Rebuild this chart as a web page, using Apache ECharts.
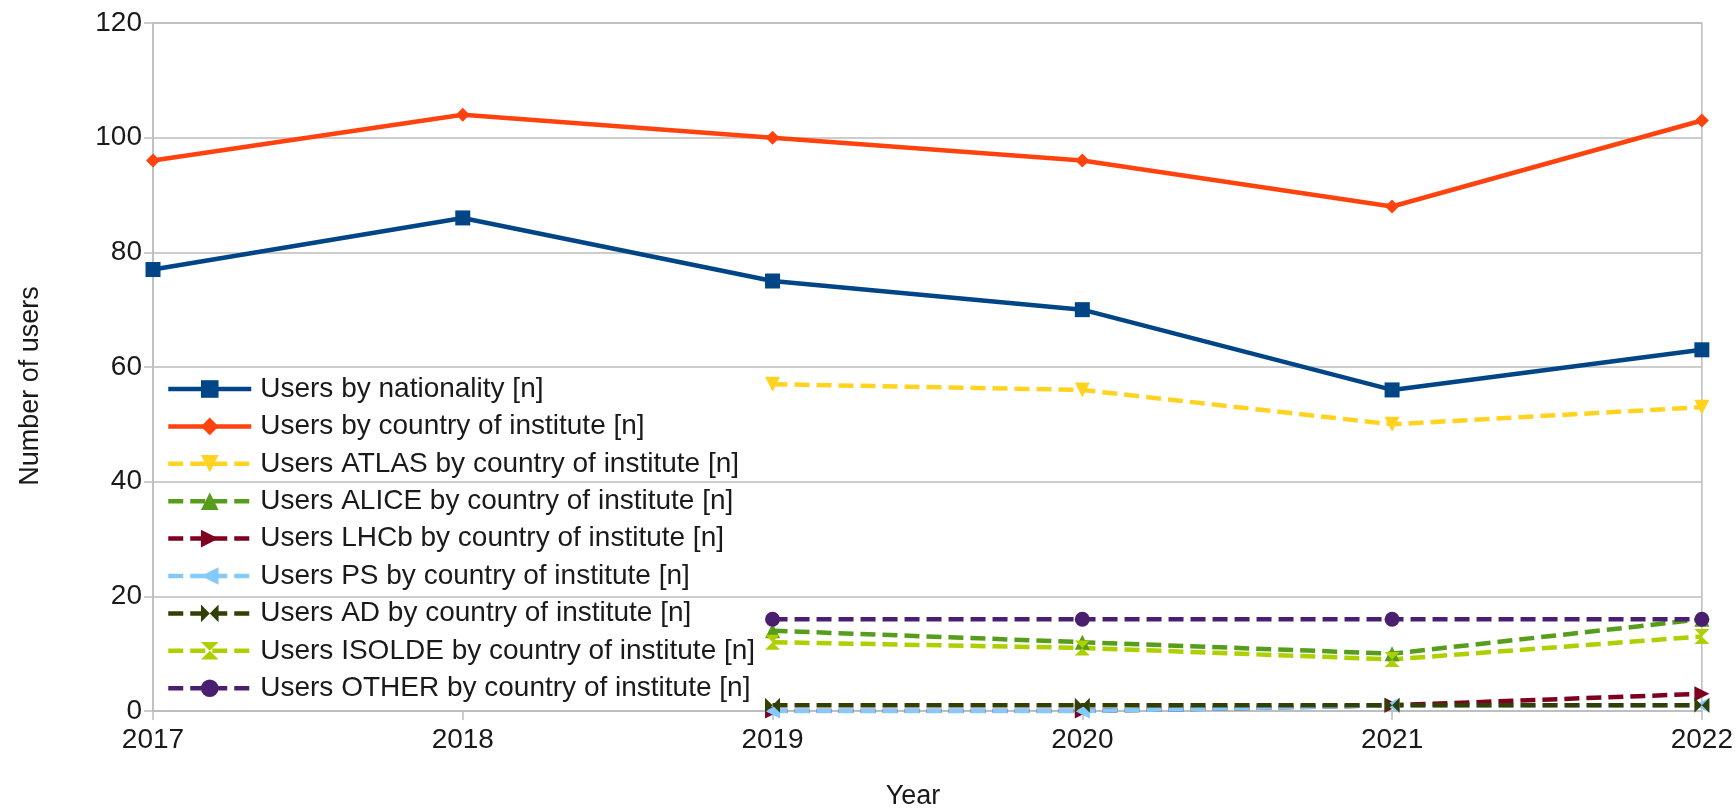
<!DOCTYPE html>
<html>
<head>
<meta charset="utf-8">
<script src="https://cdn.jsdelivr.net/npm/echarts@6/dist/echarts.min.js"></script>
<style>
  html, body { margin: 0; padding: 0; background: #ffffff; }
  #chart { width: 1736px; height: 812px; }
</style>
</head>
<body>
<div id="chart"></div>
<script>
// Years on the horizontal axis
const years = ['2017', '2018', '2019', '2020', '2021', '2022'];

// Series values (null = no data for that year)
const byNationality = [77, 86, 75, 70, 56, 63];
const byInstitute   = [96, 104, 100, 96, 88, 103];
const atlas  = [null, null, 57, 56, 50, 53];
const alice  = [null, null, 14, 12, 10, 16];
const lhcb   = [null, null, 0, 0, 1, 3];
const ps     = [null, null, 0, 0, 1, 1];
const ad     = [null, null, 1, 1, 1, 1];
const isolde = [null, null, 12, 11, 9, 13];
const other  = [null, null, 16, 16, 16, 16];

const seriesNames = [
  'Users by nationality [n]',
  'Users by country of institute [n]',
  'Users ATLAS by country of institute [n]',
  'Users ALICE by country of institute [n]',
  'Users LHCb by country of institute [n]',
  'Users PS by country of institute [n]',
  'Users AD by country of institute [n]',
  'Users ISOLDE by country of institute [n]',
  'Users OTHER by country of institute [n]'
];
const seriesValues = [byNationality, byInstitute, atlas, alice, lhcb, ps, ad, isolde, other];

// Styling per series
const colors = ['#004586', '#ff420e', '#ffd320', '#579d1c', '#7e0021', '#83caff', '#314004', '#aecf00', '#4b1f6f'];
const symbols = [
  'rect',
  'diamond',
  'path://M0,0 L10,0 L5,9 Z',
  'path://M5,0 L10,9 L0,9 Z',
  'path://M0,0 L9,5 L0,10 Z',
  'path://M9,0 L0,5 L9,10 Z',
  'path://M0,0 L5,5 L0,10 Z M10,0 L5,5 L10,10 Z',
  'path://M0,0 L10,0 L5,5 Z M0,10 L10,10 L5,5 Z',
  'circle'
];
const symbolSizes = [15, 14, 15, 15, 15, 15, 15, 15, 15];
const dashed = [false, false, true, true, true, true, true, true, true];

const FONT = 'Liberation Sans, Arial, sans-serif';
const TEXT = '#1a1a1a';
const GRIDC = '#bdbdbd';
const LINE_W = 4.5;
const DASH = [15, 7];

const series = seriesNames.map((name, i) => ({
  name: name,
  type: 'line',
  data: seriesValues[i],
  color: colors[i],
  symbol: symbols[i],
  symbolSize: symbolSizes[i],
  showAllSymbol: true,
  connectNulls: false,
  lineStyle: {
    width: LINE_W,
    color: colors[i],
    type: dashed[i] ? DASH : 'solid'
  },
  itemStyle: { color: colors[i] },
  emphasis: { disabled: true }
}));

const legendData = seriesNames.map((name, i) => ({
  name: name,
  lineStyle: { width: LINE_W, color: colors[i], type: dashed[i] ? DASH : 'solid' }
}));

const chart = echarts.init(document.getElementById('chart'), null, { renderer: 'canvas' });
chart.setOption({
  animation: false,
  backgroundColor: '#ffffff',
  grid: {
    left: 153, right: 32, top: 23, bottom: 101,
    show: true, borderColor: GRIDC, borderWidth: 1.5, backgroundColor: 'transparent'
  },
  xAxis: {
    type: 'category',
    data: years,
    boundaryGap: false,
    axisLine: { show: true, lineStyle: { color: GRIDC, width: 1.5 } },
    axisTick: { show: true, length: 9, alignWithLabel: true, lineStyle: { color: GRIDC, width: 1.5 } },
    axisLabel: { fontFamily: FONT, fontSize: 28, color: TEXT, margin: 15 },
    splitLine: { show: false }
  },
  yAxis: {
    type: 'value',
    min: 0, max: 120, interval: 20,
    axisLine: { show: true, lineStyle: { color: GRIDC, width: 1.5 } },
    axisTick: { show: true, length: 9, lineStyle: { color: GRIDC, width: 1.5 } },
    axisLabel: { fontFamily: FONT, fontSize: 28, color: TEXT, margin: 11 },
    splitLine: { show: true, lineStyle: { color: GRIDC, width: 1.5 } }
  },
  legend: {
    orient: 'vertical',
    left: 166,
    top: 375,
    padding: 0,
    itemWidth: 83,
    itemHeight: 22,
    itemGap: 9.4,
    selectedMode: false,
    data: legendData,
    textStyle: { fontFamily: FONT, fontSize: 28, color: TEXT, lineHeight: 28, padding: [0, 0, 0, 4] }
  },
  graphic: [
    {
      type: 'text',
      x: 31, y: 386,
      rotation: Math.PI / 2,
      style: {
        text: 'Number of users',
        fontFamily: FONT, fontSize: 27, fill: TEXT,
        align: 'center', verticalAlign: 'middle'
      }
    },
    {
      type: 'text',
      x: 913, y: 797,
      style: {
        text: 'Year',
        fontFamily: FONT, fontSize: 27, fill: TEXT,
        align: 'center', verticalAlign: 'middle'
      }
    }
  ],
  series: series
});
</script>
</body>
</html>
